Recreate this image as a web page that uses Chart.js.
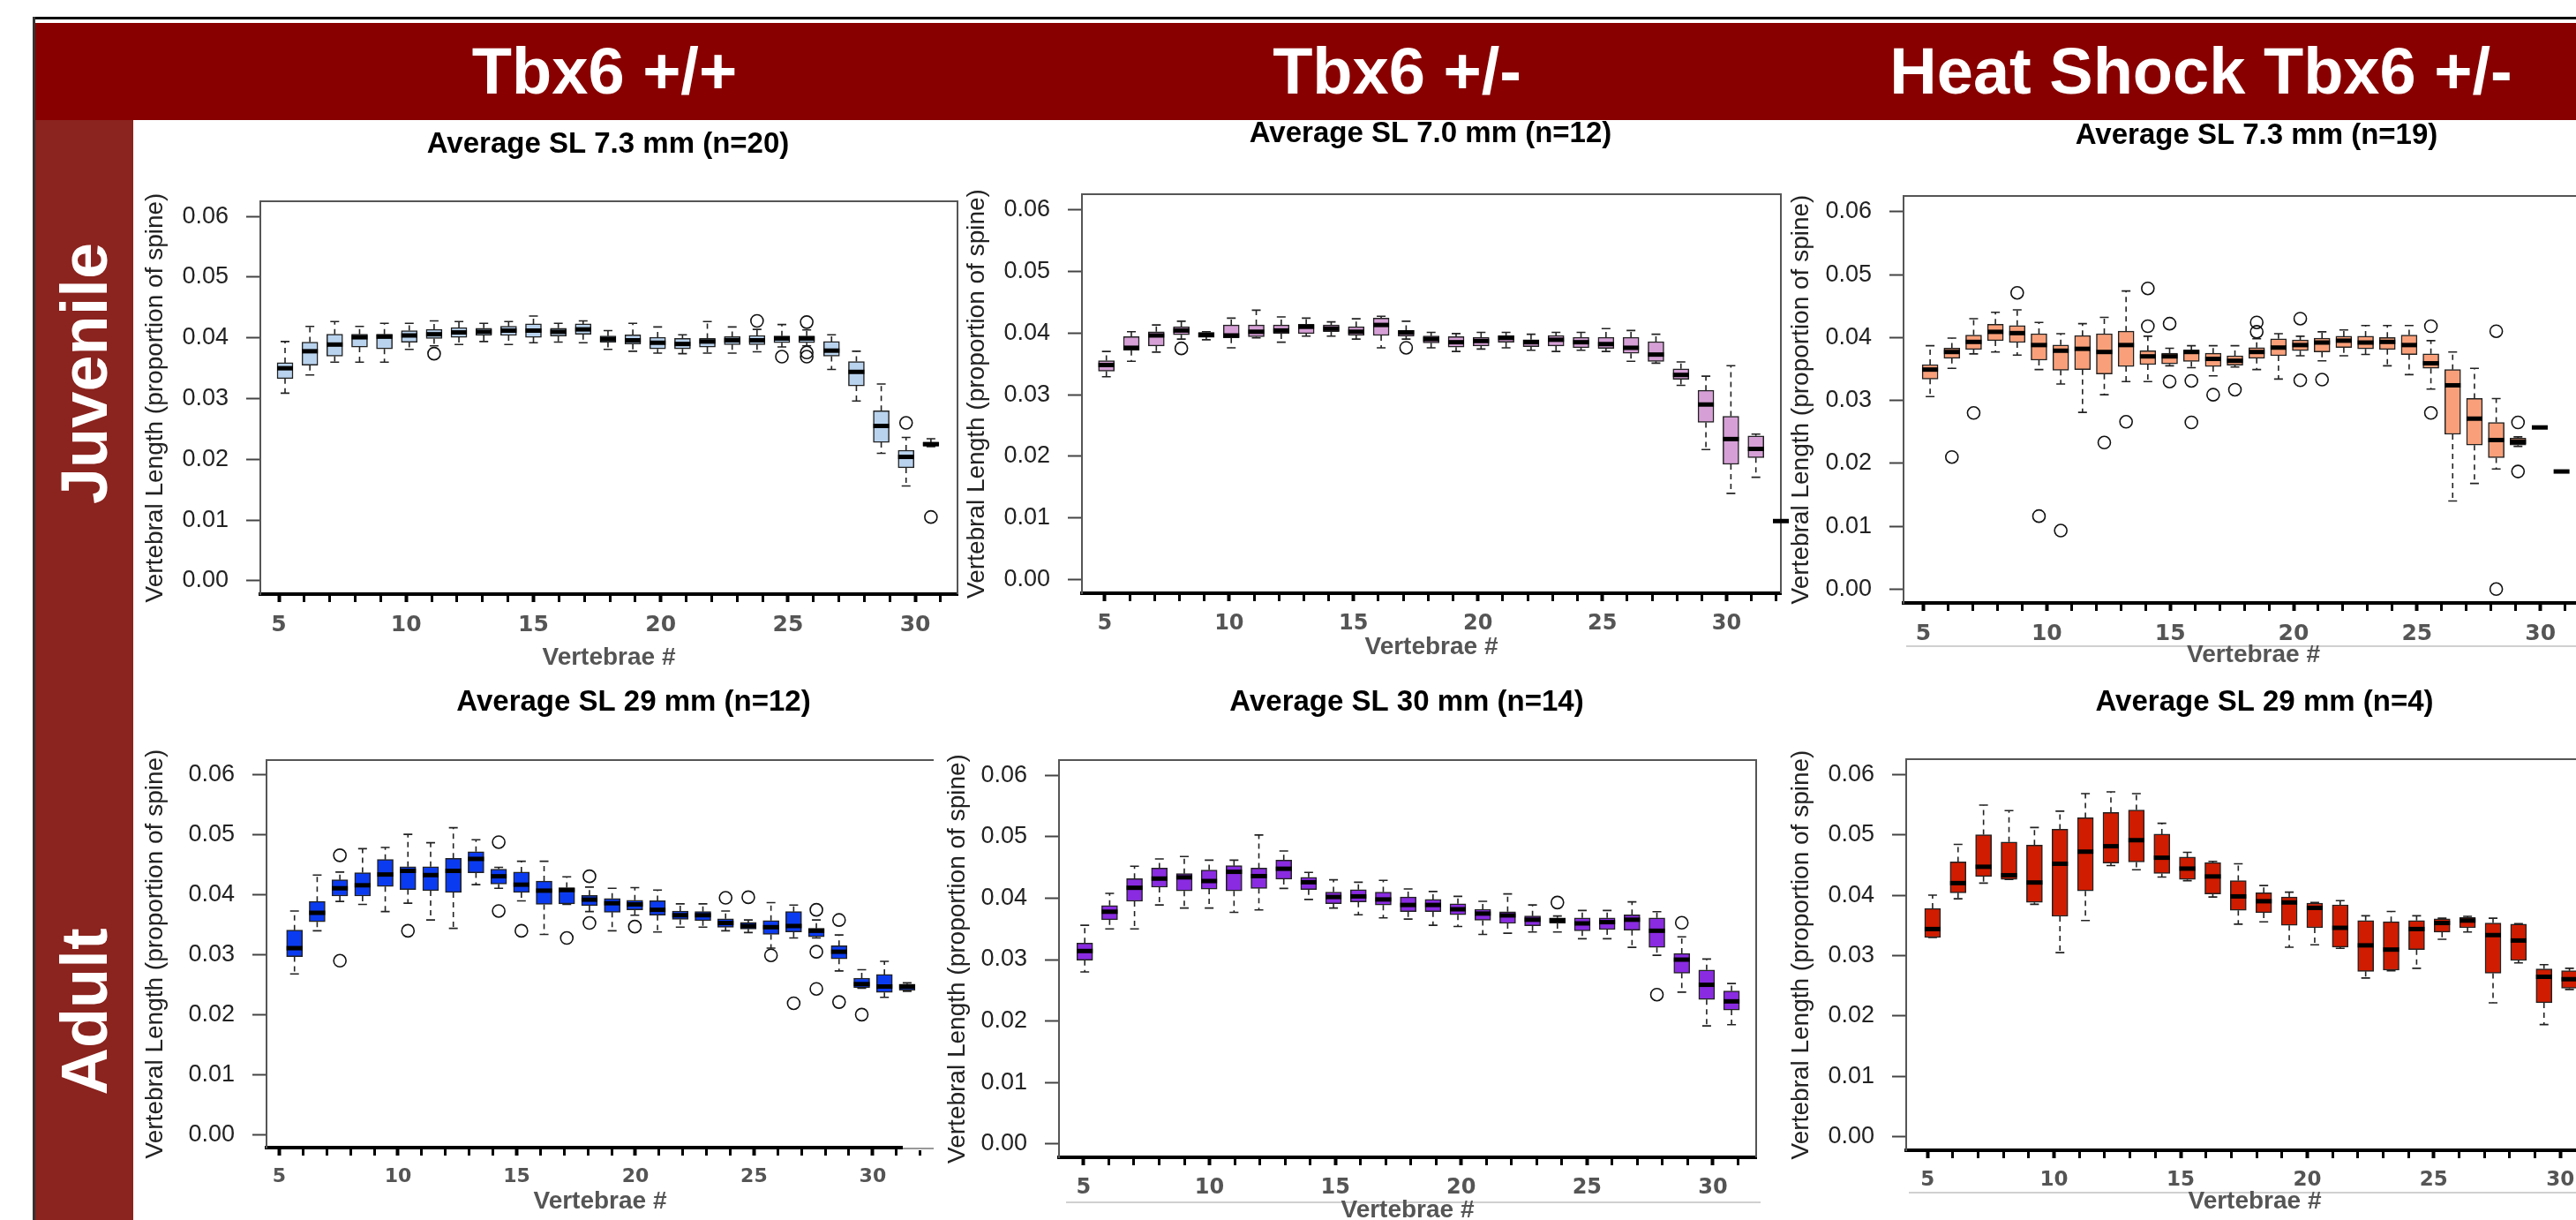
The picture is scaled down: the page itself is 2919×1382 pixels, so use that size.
<!DOCTYPE html>
<html>
<head>
<meta charset="utf-8">
<script src="https://cdn.jsdelivr.net/npm/chart.js@4.4.1/dist/chart.umd.min.js"></script>
<style>
html, body { margin:0; padding:0; background:#fff; width:2919px; height:1382px; overflow:hidden; position:relative;
  font-family:"Liberation Sans", Arial, sans-serif; }
.abs { position:absolute; }
#topline { left:37px; top:19px; width:2882px; height:3px; background:#000; }
#band { left:38px; top:26px; width:2881px; height:110px; background:#880000; }
#vline { left:37px; top:19px; width:3px; height:1363px; background:#333; }
#strip { left:40px; top:136px; width:111px; height:1246px; background:#8b231e; }
.head { position:absolute; color:#fff; font-weight:bold; font-size:74px; line-height:1; white-space:nowrap; transform:translate(-50%,-50%); }
.side { position:absolute; color:#fff; font-weight:bold; font-size:74px; line-height:1; white-space:nowrap; transform:translate(-50%,-50%) rotate(-90deg); }
.sep { position:absolute; height:2px; background:#d0d0d0; }
canvas { position:absolute; }
</style>
</head>
<body>
<div class="abs" id="topline"></div>
<div class="abs" id="band"></div>
<div class="abs" id="vline"></div>
<div class="abs" id="strip"></div>
<div class="head" style="left:685px; top:81px;">Tbx6 +/+</div>
<div class="head" style="left:1583px; top:81px;">Tbx6 +/-</div>
<div class="head" style="left:2494px; top:81px;">Heat Shock Tbx6 +/-</div>
<div class="side" style="left:96px; top:423px;">Juvenile</div>
<div class="side" style="left:96px; top:1146px;">Adult</div>
<div class="sep" style="left:2160px; top:731px; width:759px;"></div>
<div class="sep" style="left:1208px; top:1361px; width:787px;"></div>
<div class="sep" style="left:2163px; top:1350px; width:756px;"></div>
<div class="sep" style="left:1023px; top:1300px; width:35px; background:#999;"></div>

<script>
// ---- juvenile Tbx6 +/+ ----
const juvWT_vert = [5,6,7,8,9,10,11,12,13,14,15,16,17,18,19,20,21,22,23,24,25,26,27,28,29,30,31];
const juvWT_lo  = [0.0309,0.0339,0.0360,0.0360,0.0360,0.0381,0.0387,0.0389,0.0394,0.0389,0.0392,0.0393,0.0392,0.0381,0.0378,0.0375,0.0374,0.0375,0.0375,0.0377,0.0385,0.0387,0.0348,0.0296,0.0210,0.0156,0.0221];
const juvWT_q1  = [0.0333,0.0355,0.0370,0.0385,0.0382,0.0393,0.0399,0.0401,0.0404,0.0404,0.0401,0.0403,0.0406,0.0393,0.0390,0.0382,0.0382,0.0385,0.0389,0.0389,0.0392,0.0392,0.0370,0.0321,0.0228,0.0186,0.0222];
const juvWT_med = [0.0350,0.0378,0.0389,0.0401,0.0402,0.0404,0.0406,0.0409,0.0410,0.0412,0.0412,0.0410,0.0414,0.0398,0.0396,0.0392,0.0390,0.0394,0.0396,0.0396,0.0399,0.0399,0.0379,0.0344,0.0255,0.0204,0.0225];
const juvWT_q3  = [0.0359,0.0393,0.0406,0.0406,0.0406,0.0412,0.0414,0.0417,0.0416,0.0419,0.0423,0.0416,0.0423,0.0403,0.0405,0.0401,0.0399,0.0399,0.0402,0.0404,0.0403,0.0403,0.0394,0.0361,0.0280,0.0215,0.0228];
const juvWT_hi  = [0.0394,0.0419,0.0427,0.0419,0.0424,0.0424,0.0428,0.0427,0.0424,0.0427,0.0436,0.0424,0.0428,0.0412,0.0424,0.0418,0.0405,0.0427,0.0418,0.0414,0.0422,0.0413,0.0405,0.0378,0.0324,0.0236,0.0234];
const juvWT_out = [[11,0.0374],[24,0.0428],[25,0.0369],[26,0.0426],[26,0.0376],[26,0.0369],[30,0.0260],[31,0.0105]];

// ---- juvenile Tbx6 +/- ----
const juvHet_vert = [5,6,7,8,9,10,11,12,13,14,15,16,17,18,19,20,21,22,23,24,25,26,27,28,29,30,31,32];
const juvHet_lo  = [0.0329,0.0354,0.0369,0.0390,0.0389,0.0376,0.0392,0.0385,0.0395,0.0395,0.0390,0.0376,0.0390,0.0376,0.0370,0.0374,0.0376,0.0372,0.0370,0.0372,0.0370,0.0354,0.0351,0.0315,0.0211,0.0140,0.0166,0.0095];
const juvHet_q1  = [0.0338,0.0372,0.0379,0.0397,0.0393,0.0392,0.0394,0.0399,0.0399,0.0402,0.0396,0.0396,0.0395,0.0384,0.0377,0.0379,0.0385,0.0378,0.0379,0.0376,0.0375,0.0367,0.0354,0.0325,0.0255,0.0187,0.0198,0.0095];
const juvHet_med = [0.0348,0.0376,0.0396,0.0404,0.0397,0.0396,0.0402,0.0404,0.0410,0.0407,0.0402,0.0413,0.0401,0.0390,0.0385,0.0387,0.0392,0.0385,0.0389,0.0385,0.0382,0.0376,0.0365,0.0332,0.0284,0.0228,0.0212,0.0095];
const juvHet_q3  = [0.0355,0.0394,0.0402,0.0410,0.0401,0.0413,0.0413,0.0413,0.0414,0.0413,0.0410,0.0424,0.0404,0.0395,0.0394,0.0393,0.0396,0.0389,0.0396,0.0393,0.0393,0.0393,0.0386,0.0342,0.0307,0.0265,0.0233,0.0095];
const juvHet_hi  = [0.0370,0.0402,0.0413,0.0419,0.0402,0.0424,0.0437,0.0426,0.0424,0.0418,0.0423,0.0427,0.0419,0.0401,0.0399,0.0401,0.0401,0.0398,0.0401,0.0401,0.0407,0.0404,0.0398,0.0353,0.0330,0.0347,0.0236,0.0095];
const juvHet_out = [[8,0.0375],[17,0.0376]];

// ---- juvenile heat shock Tbx6 +/- ----
const juvHS_vert = [5,6,7,8,9,10,11,12,13,14,15,16,17,18,19,20,21,22,23,24,25,26,27,28,29,30,31,32,33,34];
const juvHS_lo  = [0.0306,0.0351,0.0374,0.0377,0.0372,0.0349,0.0326,0.0281,0.0309,0.0330,0.0330,0.0355,0.0352,0.0339,0.0353,0.0349,0.0334,0.0371,0.0363,0.0371,0.0373,0.0355,0.0341,0.0318,0.0140,0.0168,0.0191,0.0227,0.0257,0.0187];
const juvHS_q1  = [0.0334,0.0367,0.0381,0.0395,0.0392,0.0364,0.0348,0.0349,0.0342,0.0354,0.0357,0.0358,0.0362,0.0354,0.0356,0.0367,0.0371,0.0379,0.0377,0.0384,0.0382,0.0381,0.0373,0.0351,0.0246,0.0229,0.0209,0.0229,0.0257,0.0187];
const juvHS_med = [0.0349,0.0377,0.0393,0.0409,0.0407,0.0388,0.0379,0.0382,0.0377,0.0388,0.0370,0.0370,0.0377,0.0366,0.0363,0.0377,0.0384,0.0388,0.0392,0.0395,0.0392,0.0393,0.0388,0.0359,0.0324,0.0271,0.0237,0.0234,0.0257,0.0187];
const juvHS_q3  = [0.0357,0.0383,0.0404,0.0421,0.0419,0.0406,0.0388,0.0403,0.0406,0.0410,0.0379,0.0375,0.0380,0.0375,0.0371,0.0384,0.0398,0.0396,0.0399,0.0402,0.0402,0.0400,0.0404,0.0374,0.0349,0.0303,0.0265,0.0240,0.0257,0.0187];
const juvHS_hi  = [0.0387,0.0399,0.0430,0.0440,0.0444,0.0424,0.0406,0.0422,0.0432,0.0474,0.0402,0.0383,0.0387,0.0387,0.0387,0.0398,0.0406,0.0402,0.0409,0.0412,0.0419,0.0419,0.0419,0.0395,0.0377,0.0351,0.0303,0.0242,0.0257,0.0187];
const juvHS_out = [[6,0.0210],[7,0.0280],[9,0.0471],[10,0.0116],[11,0.0093],[13,0.0233],[14,0.0266],[15,0.0478],[15,0.0418],
  [16,0.0422],[16,0.0330],[17,0.0331],[17,0.0265],[18,0.0309],[19,0.0317],[20,0.0424],[20,0.0409],[22,0.0430],[22,0.0332],
  [23,0.0333],[28,0.0418],[28,0.0280],[31,0.0410],[31,0.0000],[32,0.0265],[32,0.0187]];

// ---- adult Tbx6 +/+ ----
const adWT_vert = [5,6,7,8,9,10,11,12,13,14,15,16,17,18,19,20,21,22,23,24,25,26,27,28,29,30,31,32];
const adWT_lo  = [0.0268,0.0340,0.0389,0.0384,0.0372,0.0386,0.0358,0.0344,0.0417,0.0411,0.0390,0.0334,0.0384,0.0372,0.0340,0.0366,0.0338,0.0346,0.0346,0.0340,0.0337,0.0311,0.0328,0.0328,0.0273,0.0244,0.0229,0.0239];
const adWT_q1  = [0.0297,0.0355,0.0398,0.0398,0.0414,0.0409,0.0407,0.0404,0.0437,0.0418,0.0404,0.0384,0.0385,0.0382,0.0371,0.0375,0.0366,0.0359,0.0357,0.0346,0.0343,0.0334,0.0338,0.0330,0.0293,0.0245,0.0237,0.0241];
const adWT_med = [0.0311,0.0370,0.0411,0.0416,0.0434,0.0440,0.0433,0.0440,0.0460,0.0431,0.0417,0.0407,0.0408,0.0392,0.0386,0.0384,0.0375,0.0366,0.0366,0.0353,0.0348,0.0346,0.0348,0.0340,0.0305,0.0251,0.0247,0.0247];
const adWT_q3  = [0.0341,0.0389,0.0425,0.0437,0.0459,0.0447,0.0447,0.0461,0.0472,0.0443,0.0438,0.0423,0.0412,0.0399,0.0394,0.0391,0.0390,0.0373,0.0372,0.0360,0.0354,0.0357,0.0372,0.0344,0.0315,0.0261,0.0267,0.0251];
const adWT_hi  = [0.0373,0.0433,0.0438,0.0477,0.0479,0.0501,0.0487,0.0512,0.0492,0.0446,0.0456,0.0456,0.0430,0.0413,0.0411,0.0412,0.0408,0.0385,0.0385,0.0373,0.0358,0.0387,0.0383,0.0358,0.0333,0.0275,0.0289,0.0253];
const adWT_out = [[7,0.0466],[7,0.0290],[10,0.0340],[14,0.0488],[14,0.0373],[15,0.0340],[17,0.0328],[18,0.0431],[18,0.0353],
  [20,0.0347],[24,0.0395],[25,0.0396],[26,0.0299],[27,0.0219],[28,0.0375],[28,0.0305],[28,0.0243],[29,0.0358],[29,0.0221],[30,0.0200]];

// ---- adult Tbx6 +/- ----
const adHet_vert = [5,6,7,8,9,10,11,12,13,14,15,16,17,18,19,20,21,22,23,24,25,26,27,28,29,30,31];
const adHet_lo  = [0.0280,0.0350,0.0350,0.0389,0.0384,0.0384,0.0377,0.0381,0.0416,0.0398,0.0384,0.0373,0.0368,0.0366,0.0356,0.0354,0.0341,0.0343,0.0345,0.0345,0.0334,0.0334,0.0320,0.0307,0.0247,0.0192,0.0194];
const adHet_q1  = [0.0299,0.0365,0.0395,0.0418,0.0412,0.0415,0.0412,0.0416,0.0431,0.0414,0.0391,0.0394,0.0389,0.0378,0.0378,0.0373,0.0364,0.0359,0.0355,0.0359,0.0347,0.0349,0.0348,0.0320,0.0278,0.0235,0.0218];
const adHet_med = [0.0314,0.0378,0.0417,0.0432,0.0434,0.0428,0.0443,0.0436,0.0448,0.0426,0.0402,0.0403,0.0398,0.0389,0.0389,0.0382,0.0375,0.0372,0.0365,0.0364,0.0359,0.0361,0.0365,0.0347,0.0300,0.0259,0.0232];
const adHet_q3  = [0.0327,0.0388,0.0432,0.0449,0.0440,0.0446,0.0453,0.0449,0.0462,0.0434,0.0410,0.0414,0.0410,0.0402,0.0398,0.0391,0.0382,0.0378,0.0371,0.0368,0.0368,0.0368,0.0373,0.0368,0.0310,0.0283,0.0249];
const adHet_hi  = [0.0356,0.0408,0.0452,0.0464,0.0468,0.0462,0.0462,0.0503,0.0477,0.0442,0.0430,0.0426,0.0429,0.0415,0.0411,0.0403,0.0395,0.0407,0.0389,0.0371,0.0380,0.0380,0.0394,0.0378,0.0337,0.0301,0.0261];
const adHet_out = [[24,0.0393],[28,0.0243],[29,0.0360]];

// ---- adult heat shock Tbx6 +/- ----
const adHS_vert = [5,6,7,8,9,10,11,12,13,14,15,16,17,18,19,20,21,22,23,24,25,26,27,28,29,30];
const adHS_lo  = [0.0330,0.0394,0.0420,0.0426,0.0385,0.0305,0.0358,0.0449,0.0442,0.0430,0.0424,0.0397,0.0352,0.0356,0.0314,0.0318,0.0312,0.0263,0.0275,0.0279,0.0327,0.0339,0.0222,0.0288,0.0186,0.0244];
const adHS_q1  = [0.0330,0.0404,0.0431,0.0426,0.0388,0.0365,0.0407,0.0453,0.0455,0.0436,0.0426,0.0402,0.0375,0.0371,0.0350,0.0346,0.0314,0.0274,0.0276,0.0310,0.0339,0.0346,0.0271,0.0292,0.0222,0.0246];
const adHS_med = [0.0344,0.0420,0.0447,0.0433,0.0421,0.0452,0.0472,0.0481,0.0491,0.0462,0.0444,0.0431,0.0398,0.0390,0.0388,0.0379,0.0346,0.0317,0.0310,0.0344,0.0354,0.0358,0.0334,0.0325,0.0265,0.0261];
const adHS_q3  = [0.0378,0.0455,0.0500,0.0488,0.0483,0.0509,0.0528,0.0537,0.0541,0.0501,0.0463,0.0454,0.0424,0.0404,0.0397,0.0387,0.0384,0.0358,0.0356,0.0358,0.0361,0.0363,0.0354,0.0352,0.0278,0.0275];
const adHS_hi  = [0.0400,0.0484,0.0549,0.0540,0.0512,0.0539,0.0568,0.0571,0.0568,0.0519,0.0471,0.0456,0.0452,0.0416,0.0405,0.0388,0.0391,0.0366,0.0373,0.0366,0.0362,0.0365,0.0362,0.0353,0.0285,0.0279];
const adHS_out = [];

const yTicks = [0, 0.01, 0.02, 0.03, 0.04, 0.05, 0.06];

// layout of each R panel on the page (plot box l,t,r,b), title centre, axis ranges
const panels = [
  { title:'Average SL 7.3 mm (n=20)', color:'#b9d3ee', vert:juvWT_vert, lo:juvWT_lo, q1:juvWT_q1, med:juvWT_med, q3:juvWT_q3, hi:juvWT_hi, out:juvWT_out,
    plot:[295,228,1085,673], titleAt:[689,164], xb:[0.005,28.07], xt:[4.27,31.66], yTitleOff:119, xTitleOff:72, xTick:25, right:true },
  { title:'Average SL 7.0 mm (n=12)', color:'#d6a0d6', vert:juvHet_vert, lo:juvHet_lo, q1:juvHet_q1, med:juvHet_med, q3:juvHet_q3, hi:juvHet_hi, out:juvHet_out,
    plot:[1226,220,2018,672], titleAt:[1621,152], xb:[0.022,28.0], xt:[4.08,32.18], yTitleOff:119, xTitleOff:61, xTick:24, right:true },
  { title:'Average SL 7.3 mm (n=19)', color:'#f9a07a', vert:juvHS_vert, lo:juvHS_lo, q1:juvHS_q1, med:juvHS_med, q3:juvHS_q3, hi:juvHS_hi, out:juvHS_out,
    plot:[2157,222,2950,683], titleAt:[2557,154], xb:[-0.22,31.92], xt:[4.195,32.55], yTitleOff:116, xTitleOff:59, xTick:25, right:true },
  { title:'Average SL 29 mm (n=12)', color:'#0b3bf0', vert:adWT_vert, lo:adWT_lo, q1:adWT_q1, med:adWT_med, q3:adWT_q3, hi:adWT_hi, out:adWT_out,
    plot:[302,861,1058,1300], titleAt:[718,796], xb:[-0.233,29.17], xt:[4.46,32.57], yTitleOff:126, xTitleOff:61, xTick:22, right:false, axisEnd:1023 },
  { title:'Average SL 30 mm (n=14)', color:'#8a2be2', vert:adHet_vert, lo:adHet_lo, q1:adHet_q1, med:adHet_med, q3:adHet_q3, hi:adHet_hi, out:adHet_out,
    plot:[1200,861,1990,1311], titleAt:[1594,796], xb:[-0.036,27.99], xt:[4.02,31.72], yTitleOff:115, xTitleOff:60, xTick:24, right:true },
  { title:'Average SL 29 mm (n=4)', color:'#d01c00', vert:adHS_vert, lo:adHS_lo, q1:adHS_q1, med:adHS_med, q3:adHS_q3, hi:adHS_hi, out:adHS_out,
    plot:[2160,860,2950,1303], titleAt:[2566,796], xb:[-0.036,27.33], xt:[4.156,31.7], yTitleOff:119, xTitleOff:58, xTick:23, right:true }
];

Chart.defaults.font.family = '"Liberation Sans", Arial, sans-serif';

function boxPlugin(p, cl, ct) {
  return {
    id: 'boxDraw',
    beforeDatasetsDraw(chart) {
      const ctx = chart.ctx, a = chart.chartArea, y = chart.scales.y;
      ctx.save();
      // plot frame
      ctx.strokeStyle = '#555';
      ctx.lineWidth = 2;
      ctx.beginPath();
      ctx.moveTo(a.left, a.bottom); ctx.lineTo(a.left, a.top); ctx.lineTo(a.right, a.top);
      if (p.right) ctx.lineTo(a.right, a.bottom);
      ctx.stroke();
      // whiskers
      chart.getDatasetMeta(0).data.forEach((bar, i) => {
        const x = bar.x, cap = 5;
        const yLo = y.getPixelForValue(p.lo[i]), yQ1 = y.getPixelForValue(p.q1[i]);
        const yQ3 = y.getPixelForValue(p.q3[i]), yHi = y.getPixelForValue(p.hi[i]);
        ctx.strokeStyle = '#222';
        ctx.lineWidth = 1.6;
        ctx.setLineDash([6, 5]);
        ctx.beginPath();
        ctx.moveTo(x, yQ3); ctx.lineTo(x, yHi);
        ctx.moveTo(x, yQ1); ctx.lineTo(x, yLo);
        ctx.stroke();
        ctx.setLineDash([]);
        ctx.beginPath();
        ctx.moveTo(x - cap, yHi); ctx.lineTo(x + cap, yHi);
        ctx.moveTo(x - cap, yLo); ctx.lineTo(x + cap, yLo);
        ctx.stroke();
      });
      ctx.restore();
    },
    afterDatasetsDraw(chart) {
      const ctx = chart.ctx, y = chart.scales.y;
      ctx.save();
      chart.getDatasetMeta(0).data.forEach((bar, i) => {
        const ym = y.getPixelForValue(p.med[i]), hw = bar.width / 2;
        ctx.strokeStyle = '#000';
        ctx.lineWidth = 5;
        ctx.beginPath();
        ctx.moveTo(bar.x - hw, ym); ctx.lineTo(bar.x + hw, ym);
        ctx.stroke();
      });
      ctx.restore();
    },
    afterDraw(chart) {
      const ctx = chart.ctx;
      ctx.save();
      if (p.axisEnd) {
        // the thick axis stops short of the right edge in this panel
        const a = chart.chartArea;
        ctx.clearRect(p.axisEnd - cl, a.bottom - 3, a.right - (p.axisEnd - cl) + 5, 6);
      }
      ctx.font = 'bold 33px "Liberation Sans", Arial, sans-serif';
      ctx.fillStyle = '#000';
      ctx.textAlign = 'center';
      ctx.textBaseline = 'middle';
      ctx.fillText(p.title, p.titleAt[0] - cl, p.titleAt[1] - ct);
      ctx.restore();
    }
  };
}

panels.forEach(p => {
  const [l, t, r, b] = p.plot;
  const YW = 150, PT = 110, XH = 100, PR = 20;
  const cl = l - YW, ct = t - PT;
  const cw = YW + (r - l) + PR, ch = PT + (b - t) + XH;
  const cv = document.createElement('canvas');
  cv.width = cw; cv.height = ch;
  cv.style.left = cl + 'px'; cv.style.top = ct + 'px';
  cv.style.width = cw + 'px'; cv.style.height = ch + 'px';
  document.body.appendChild(cv);

  const boxes = p.vert.map((v, i) => ({ x: i + 1, y: [p.q1[i], p.q3[i]] }));
  const outliers = p.out.map(([v, val]) => ({ x: p.vert.indexOf(v) + 1, y: val }));

  new Chart(cv, {
    type: 'bar',
    data: {
      datasets: [
        { type: 'bar', xAxisID: 'xb', yAxisID: 'y', data: boxes,
          backgroundColor: p.color, borderColor: '#222', borderWidth: 1.5, borderSkipped: false, barThickness: 18 },
        { type: 'scatter', xAxisID: 'xb', yAxisID: 'y', data: outliers,
          pointStyle: 'circle', pointRadius: 7, pointBorderColor: '#111', pointBorderWidth: 1.6,
          pointBackgroundColor: 'rgba(0,0,0,0)' }
      ]
    },
    options: {
      responsive: false,
      animation: false,
      layout: { padding: { left: 0, top: PT, right: PR, bottom: 0 } },
      plugins: { legend: { display: false }, tooltip: { enabled: false }, title: { display: false } },
      scales: {
        xb: {
          type: 'linear', display: false, offset: false, min: p.xb[0], max: p.xb[1],
          grid: { offset: false }
        },
        x: {
          type: 'linear', position: 'bottom', offset: false, min: p.xt[0], max: p.xt[1],
          afterFit: s => { s.height = XH; },
          grid: { offset: false, drawOnChartArea: false, tickLength: 9, tickColor: '#000',
            tickWidth: c => (c.tick && c.tick.value % 5 === 0 ? 4 : 3) },
          border: { display: true, color: '#000', width: 4 },
          ticks: { stepSize: 1, includeBounds: false, autoSkip: false, maxRotation: 0, padding: 11,
            color: '#555', font: { family: '"DejaVu Sans", Verdana, sans-serif', size: p.xTick, weight: 'bold' },
            callback: v => (v % 5 === 0 ? String(v) : '') },
          title: { display: true, text: 'Vertebrae #', color: '#555', font: { size: 28, weight: 'bold' },
            padding: { top: 0, bottom: XH - 16.8 - p.xTitleOff } }
        },
        y: {
          type: 'linear', position: 'left', min: -0.0022, max: 0.0625,
          afterFit: s => { s.width = YW; },
          afterBuildTicks: s => { s.ticks = yTicks.map(v => ({ value: v })); },
          grid: { drawOnChartArea: false, tickLength: 16, tickColor: '#444', tickWidth: 2 },
          border: { display: true, color: '#555', width: 2 },
          ticks: { padding: 20, color: '#222', font: { size: 27 }, callback: v => v.toFixed(2) },
          title: { display: true, text: 'Vertebral Length (proportion of spine)', color: '#222',
            font: { size: 28 }, padding: { top: YW - p.yTitleOff - 16.8, bottom: 0 } }
        }
      }
    },
    plugins: [boxPlugin(p, cl, ct)]
  });
});
</script>
</body>
</html>
